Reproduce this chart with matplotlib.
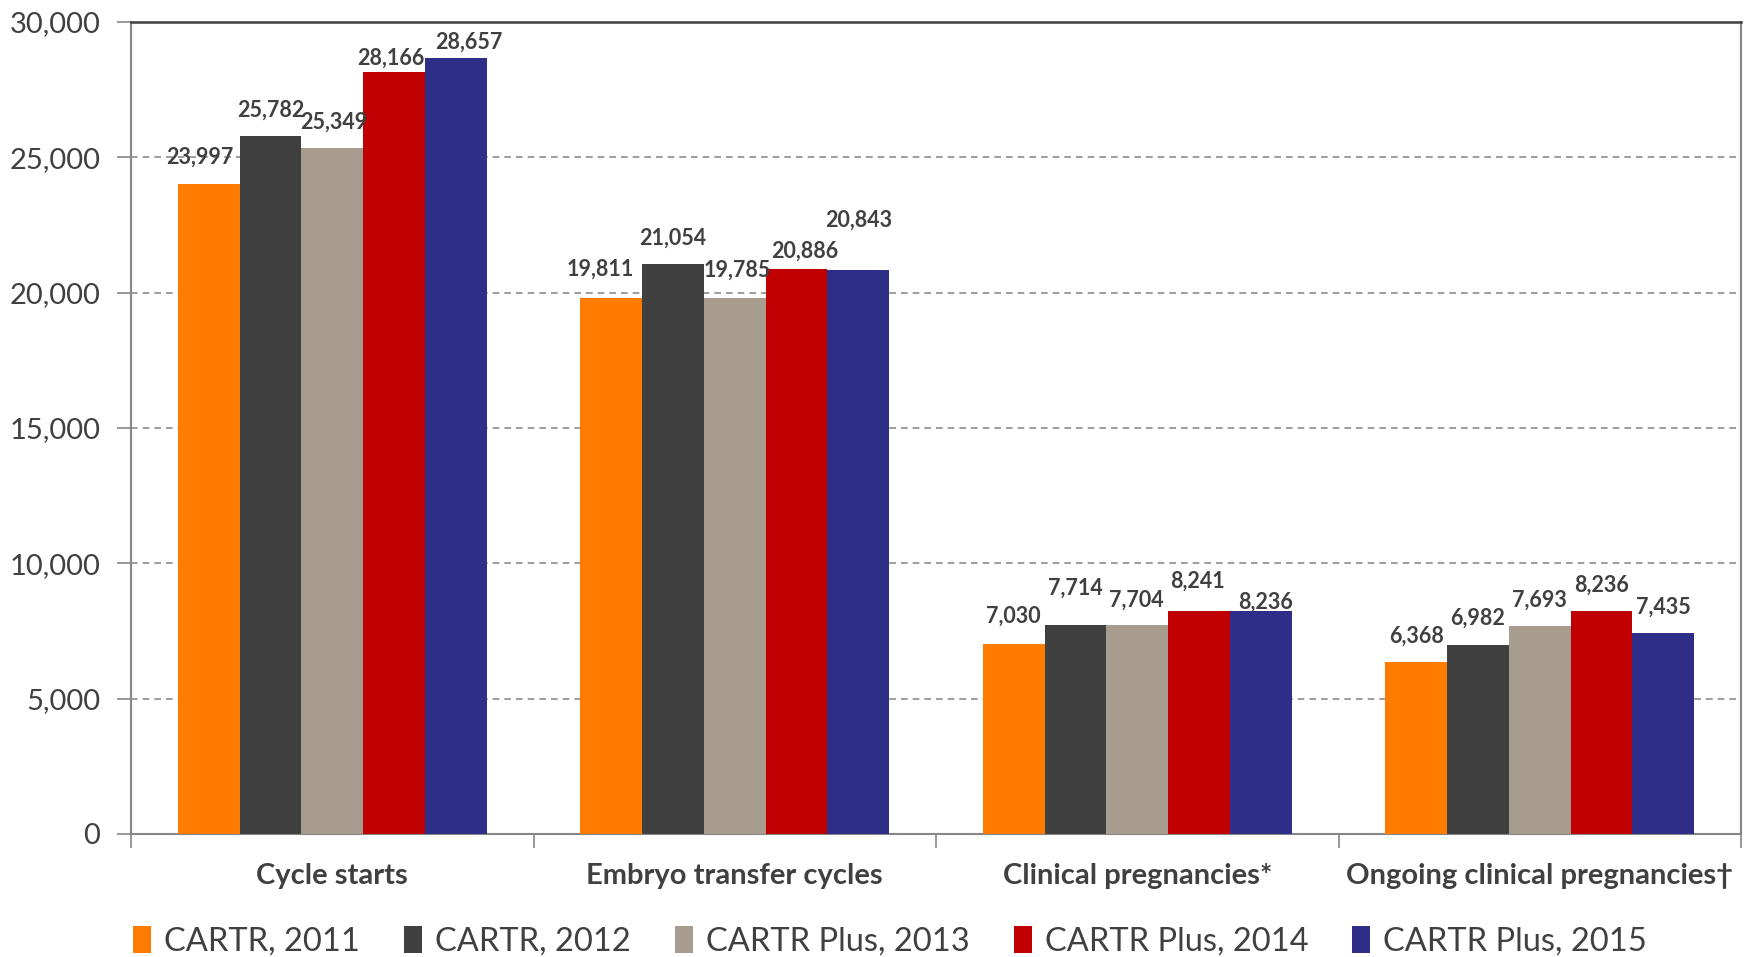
import matplotlib.pyplot as plt
import numpy as np
from matplotlib.ticker import FuncFormatter, FixedLocator

categories = ["Cycle starts", "Embryo transfer cycles",
              "Clinical pregnancies*", "Ongoing clinical pregnancies\u2020"]
series = ["CARTR, 2011", "CARTR, 2012", "CARTR Plus, 2013",
          "CARTR Plus, 2014", "CARTR Plus, 2015"]
cartr_2011 = [23997, 19811, 7030, 6368]
cartr_2012 = [25782, 21054, 7714, 6982]
plus_2013 = [25349, 19785, 7704, 7693]
plus_2014 = [28166, 20886, 8241, 8236]
plus_2015 = [28657, 20843, 8236, 7435]
values = [cartr_2011, cartr_2012, plus_2013, plus_2014, plus_2015]

colors = ["#FF7C00", "#404040", "#A89C8E", "#C00000", "#2E2D88"]
# label nudges (points), mimicking hand-placed labels in the original
nudges = [
    [(-6, 1), (-8, 2), (0, 1), (0, 0)],
    [(0, 0), (0, 0), (0, 8), (0, 1)],
    [(1, 0), (2, 2), (-1, 0), (0, 0)],
    [(-2, -9), (6, -6), (-1, 3), (0, 0)],
    [(9, -7), (0, 17), (3, -12), (0, 0)],
]

plt.rcParams["font.family"] = ["Lato", "DejaVu Sans"]
txt = "#404040"

fig = plt.figure(figsize=(17.52, 9.57), dpi=100)
ax = fig.add_axes([131 / 1752, 1 - 834 / 957, (1741 - 131) / 1752, (834 - 22) / 957])

x = np.arange(len(categories))
w = 0.1536
for i, (name, vals) in enumerate(zip(series, values)):
    pos = x + (i - 2) * w
    ax.bar(pos, vals, width=w, color=colors[i], label=name, zorder=3)
    for j, (p, v) in enumerate(zip(pos, vals)):
        dx, dy = nudges[i][j]
        ax.annotate(f"{v:,}", (p, v), xytext=(dx, 18.5 + dy), textcoords="offset points",
                    ha="center", va="center", fontsize=15.5, fontweight="bold",
                    color=txt, zorder=4)

ax.set_xlim(-0.5, len(categories) - 0.5)
ax.set_ylim(0, 30000)
ax.set_yticks(np.arange(0, 30001, 5000))
ax.yaxis.set_major_formatter(FuncFormatter(lambda v, p: f"{int(v):,}"))
ax.grid(axis="y", linestyle=(0, (4, 3)), color="#8C8C8C", linewidth=1.2, zorder=0)

ax.xaxis.set_major_locator(FixedLocator(np.arange(-0.5, len(categories), 1)))
ax.xaxis.set_minor_locator(FixedLocator(x))
ax.set_xticklabels([])
ax.set_xticklabels(categories, minor=True, fontsize=21, fontweight="bold", color=txt)
ax.tick_params(axis="x", which="major", length=10, width=1.2, color="#868686", direction="out")
ax.tick_params(axis="x", which="minor", length=0, pad=21)
ax.tick_params(axis="y", length=10, width=1.2, color="#868686", labelsize=21,
               labelcolor=txt, pad=12)

for s in ["left", "bottom", "right"]:
    ax.spines[s].set_color("#868686")
    ax.spines[s].set_linewidth(1.5)
ax.spines["top"].set_color("#404040")
ax.spines["top"].set_linewidth(1.8)

leg = fig.legend(loc="center", bbox_to_anchor=(0.508, 1 - 941 / 957), ncol=5,
                 frameon=False, fontsize=23.5, handlelength=0.55, handleheight=0.9,
                 handletextpad=0.4, columnspacing=1.35, labelcolor=txt)

fig.savefig("out.png", dpi=100)
